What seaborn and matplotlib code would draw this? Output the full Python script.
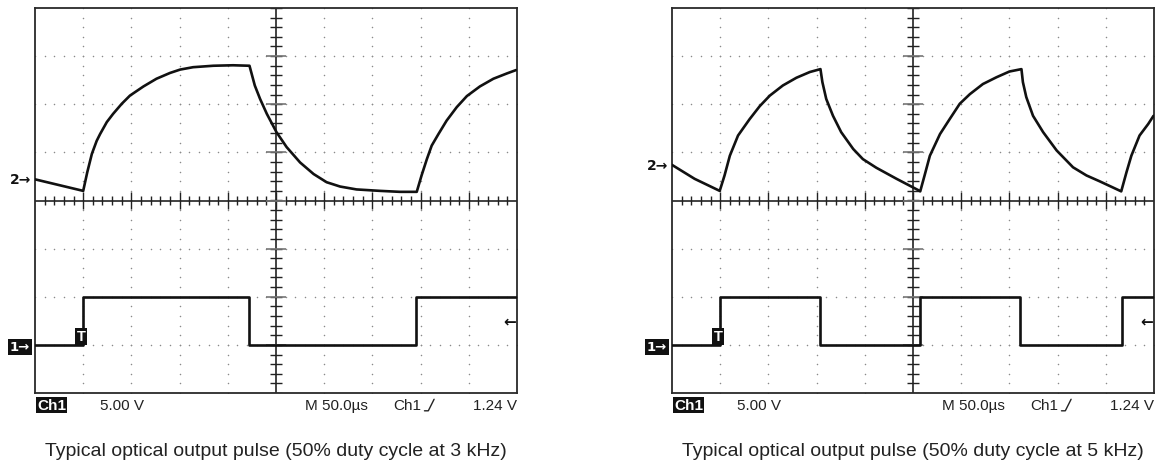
import numpy as np
import seaborn as sns
import matplotlib.pyplot as plt

sns.set_style("white")
plt.rcParams['font.family'] = ['Liberation Sans', 'DejaVu Sans']

# time axis in screen divisions (0..10), amplitude in divisions (-4..4)
opt_3k_t = [0, 1.0, 1.085, 1.18, 1.28, 1.35, 1.49, 1.62, 1.80, 1.97, 2.25, 2.52,
            2.80, 3.01, 3.28, 3.70, 4.11, 4.45,
            4.56, 4.67, 4.81, 5.01, 5.22, 5.50, 5.78, 6.05, 6.33, 6.67, 7.16,
            7.57, 7.92,
            8.02, 8.13, 8.23, 8.37, 8.54, 8.75, 8.96, 9.23, 9.51, 9.79, 9.98]
opt_3k_v = [0.44, 0.2, 0.59, 0.97, 1.24, 1.38, 1.63, 1.80, 2.01, 2.18, 2.37, 2.53,
            2.65, 2.72, 2.77, 2.80, 2.81, 2.80,
            2.39, 2.11, 1.80, 1.42, 1.11, 0.79, 0.55, 0.38, 0.29, 0.23, 0.20,
            0.18, 0.18,
            0.52, 0.86, 1.14, 1.38, 1.66, 1.94, 2.17, 2.37, 2.53, 2.64, 2.71]

opt_5k_t = [0, 0.47, 0.99, 1.09, 1.2, 1.37, 1.61, 1.82, 2.03, 2.30, 2.58, 2.86,
            3.08, 3.12, 3.20, 3.34, 3.51, 3.76, 3.96, 4.24, 4.66, 5.10,
            5.15, 5.24, 5.35, 5.56, 5.76, 5.97, 6.18, 6.45, 6.73, 7.0, 7.25,
            7.28, 7.35, 7.49, 7.70, 7.98, 8.32, 8.60, 8.87, 9.32,
            9.43, 9.53, 9.70, 9.88, 9.99]
opt_5k_v = [0.74, 0.45, 0.2, 0.52, 0.93, 1.35, 1.69, 1.96, 2.18, 2.39, 2.55, 2.67,
            2.73, 2.46, 2.11, 1.76, 1.42, 1.07, 0.86, 0.68, 0.45, 0.22,
            0.19, 0.52, 0.93, 1.38, 1.69, 2.01, 2.21, 2.42, 2.56, 2.68, 2.73,
            2.46, 2.15, 1.76, 1.42, 1.04, 0.69, 0.52, 0.40, 0.19,
            0.59, 0.93, 1.35, 1.59, 1.76]

drive_3k_t = [0, 1.0, 4.45, 7.9, 10.0]
drive_3k_v = [-3, -2, -3, -2, -2]
drive_5k_t = [0, 1.0, 3.08, 5.15, 7.21, 9.34, 10.0]
drive_5k_v = [-3, -2, -3, -2, -3, -2, -2]

ch2_ref = [0.44, 0.74]
captions = ["Typical optical output pulse (50% duty cycle at 3 kHz)",
            "Typical optical output pulse (50% duty cycle at 5 kHz)"]

fig = plt.figure(figsize=(11.55, 4.64), dpi=100)
left_edges = [35 / 1155, 672 / 1155]
panels = [(opt_3k_t, opt_3k_v, drive_3k_t, drive_3k_v),
          (opt_5k_t, opt_5k_v, drive_5k_t, drive_5k_v)]

for i, (ot, ov, dt, dv) in enumerate(panels):
    ax = fig.add_axes([left_edges[i], 1 - 394 / 464, 482 / 1155, 385 / 464])
    ax.set_xlim(0, 10)
    ax.set_ylim(-4, 4)
    ax.set_xticks([])
    ax.set_yticks([])
    for s in ax.spines.values():
        s.set_linewidth(1.3)
        s.set_color('#2a2a2a')

    # dotted graticule
    fine = np.arange(0, 10.01, 0.2)
    fine_v = np.arange(-4, 4.01, 0.2)
    for k in [1, 2, 3, 4, 6, 7, 8, 9]:
        ax.scatter(np.full_like(fine_v, k), fine_v, s=1.2, color='#8a8a8a', lw=0, zorder=1)
    for j in [-3, -2, -1, 1, 2, 3]:
        ax.scatter(fine, np.full_like(fine, j), s=1.2, color='#8a8a8a', lw=0, zorder=1)

    # centre cross with tick marks
    ax.axhline(0, color='#222222', lw=1.2, zorder=2)
    ax.axvline(5, color='#222222', lw=1.2, zorder=2)
    minor = fine[(np.abs(fine - np.round(fine)) > 0.01)]
    major = np.arange(1, 10)
    ax.vlines(minor, -0.1, 0.1, color='#222222', lw=1.0, zorder=2)
    ax.vlines(major, -0.18, 0.18, color='#222222', lw=1.0, zorder=2)
    ax.hlines(fine_v, 4.88, 5.12, color='#222222', lw=1.0, zorder=2)
    ax.hlines(np.arange(-3, 4), 4.8, 5.2, color='#777777', lw=1.2, zorder=2)

    # traces
    sns.lineplot(x=ot, y=ov, ax=ax, color='#111111', lw=1.9, sort=False, zorder=4)
    sns.lineplot(x=dt, y=dv, ax=ax, color='#111111', lw=1.9, sort=False,
                 drawstyle='steps-post', zorder=4)

    # channel markers
    ax.text(-0.07, ch2_ref[i], "2\u2192", ha='right', va='center', fontsize=10,
            fontweight='bold', color='#111111', clip_on=False,
            family=['DejaVu Sans'])
    ax.text(-0.1, -3.04, "1\u2192", ha='right', va='center', fontsize=9.5,
            fontweight='bold', color='white', clip_on=False,
            family=['DejaVu Sans'],
            bbox=dict(boxstyle='square,pad=0.12', fc='#111111', ec='none'))
    ax.text(dt[1] - 0.04, -2.97, "T", ha='center', va='bottom', fontsize=10.5,
            fontweight='bold', color='white', zorder=5,
            bbox=dict(boxstyle='square,pad=0.1', fc='#111111', ec='none'))
    ax.text(9.97, -2.5, "\u2190", ha='right', va='center', fontsize=11,
            fontweight='bold', color='#111111', family=['DejaVu Sans'])

    # readout line
    ax.text(0.04, -4.25, "Ch1", ha='left', va='center', fontsize=11,
            fontweight='bold', color='white', clip_on=False,
            bbox=dict(boxstyle='square,pad=0.05', fc='#111111', ec='none'))
    ax.text(1.35, -4.25, "5.00 V", ha='left', va='center', fontsize=11,
            color='#222222', clip_on=False)
    ax.text(5.6, -4.25, "M 50.0\u00b5s", ha='left', va='center', fontsize=11,
            color='#222222', clip_on=False)
    ax.text(7.43, -4.25, "Ch1", ha='left', va='center', fontsize=11,
            color='#222222', clip_on=False)
    ax.plot([8.08, 8.16, 8.28], [-4.37, -4.37, -4.13], color='#222222', lw=1.0,
            clip_on=False)
    ax.text(10.0, -4.25, "1.24 V", ha='right', va='center', fontsize=11,
            color='#222222', clip_on=False)

    fig.text(left_edges[i] + 241 / 1155, 1 - 452 / 464, captions[i],
             ha='center', va='center', fontsize=14, color='#222222')

fig.savefig("out.png", dpi=100)
